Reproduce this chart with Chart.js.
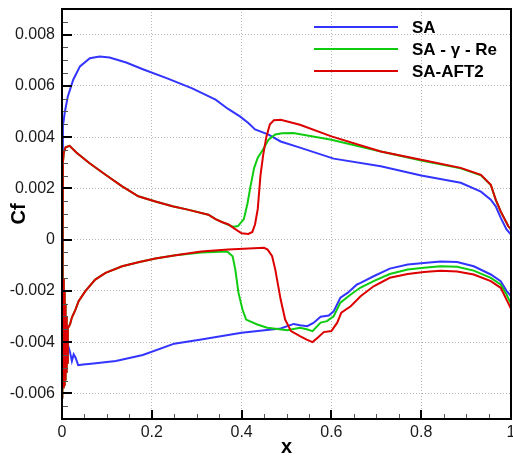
<!DOCTYPE html>
<html>
<head>
<meta charset="utf-8">
<script src="https://cdn.jsdelivr.net/npm/chart.js@4.4.1/dist/chart.umd.min.js"></script>
<style>
  html, body { margin: 0; padding: 0; background: #fff; }
</style>
</head>
<body>
<canvas id="cf" width="513" height="458"></canvas>
<script>
const FONT = "'Liberation Sans', Arial, Helvetica, sans-serif";

const COLORS = {
  sa: "#3434ff",
  gamma: "#10cc10",
  aft: "#dd0000",
  grid: "#b8b8b8",
  text: "#1a1a1a",
};

// tick values and labels
const xTicks = [0, 0.2, 0.4, 0.6, 0.8, 1];
const xTickLabels = ["0", "0.2", "0.4", "0.6", "0.8", "1"];
const yTicks = [-0.006, -0.004, -0.002, 0, 0.002, 0.004, 0.006, 0.008];
const yTickLabels = ["-0.006", "-0.004", "-0.002", "0", "0.002", "0.004", "0.006", "0.008"];

const seriesNames = ["SA", "SA - \u03b3 - Re", "SA-AFT2"];

// SA, upper surface (leading edge -> trailing edge)
const saUpperX = [0, 0.002, 0.006, 0.013, 0.025, 0.04, 0.062, 0.084, 0.106, 0.143, 0.18, 0.233, 0.29, 0.342,
  0.37, 0.397, 0.415, 0.43, 0.46, 0.487, 0.53, 0.605, 0.71, 0.8, 0.888, 0.933, 0.955, 0.966, 0.977, 0.99, 1.0];
const saUpperCf = [0.0035, 0.00442, 0.00495, 0.00559, 0.00624, 0.00676, 0.00708, 0.00715, 0.00711, 0.00691, 0.00665, 0.0063, 0.0059, 0.00546,
  0.0051, 0.0048, 0.00455, 0.0043, 0.0041, 0.00383, 0.00359, 0.00316, 0.00286, 0.0025, 0.00222, 0.00187, 0.00156, 0.0013, 0.00086, 0.0004, 0.0002];

// SA, lower surface
const saLowerX = [0.002, 0.008, 0.013, 0.018, 0.022, 0.026, 0.03, 0.036, 0.047, 0.07, 0.12, 0.18, 0.25, 0.31, 0.4, 0.487,
  0.516, 0.53, 0.546, 0.56, 0.576, 0.594, 0.605, 0.62, 0.636, 0.657, 0.665, 0.694, 0.73, 0.77, 0.806, 0.843, 0.88, 0.917, 0.955, 0.977, 0.99, 1.0];
const saLowerCf = [-0.0039, -0.0041, -0.0041, -0.0044, -0.00474, -0.00448, -0.0046, -0.0049, -0.00487, -0.00483, -0.00474, -0.0045, -0.00406, -0.0039, -0.00363, -0.00347,
  -0.00329, -0.00334, -0.00338, -0.00325, -0.00301, -0.00296, -0.0028, -0.00227, -0.00208, -0.00175, -0.00169, -0.00143, -0.00113, -0.00097, -0.00091, -0.00085, -0.00087, -0.00104, -0.00136, -0.00162, -0.002, -0.0022];

// SA-gamma-Re, upper surface
const gammaUpperX = [0, 0.0005, 0.001, 0.002, 0.004, 0.008, 0.017, 0.032, 0.06, 0.097, 0.134, 0.17, 0.208, 0.246, 0.28, 0.326, 0.342, 0.357,
  0.37, 0.382, 0.392, 0.405, 0.413, 0.42, 0.428, 0.436, 0.447, 0.46, 0.475, 0.49, 0.515, 0.6, 0.71, 0.8, 0.888, 0.933, 0.955, 0.966, 0.977, 0.994, 1.0];
const gammaUpperCf = [0, 0.0012, 0.0022, 0.003, 0.0034, 0.0036, 0.00366, 0.0034, 0.003, 0.00253, 0.00208, 0.00169, 0.00149, 0.0013, 0.00117, 0.00097, 0.0008, 0.00068,
  0.00058, 0.0005, 0.00053, 0.0008, 0.0014, 0.0021, 0.0028, 0.0032, 0.0035, 0.0039, 0.0041, 0.00415, 0.00416, 0.0039, 0.00344, 0.00309, 0.00278, 0.00251, 0.00213, 0.00155, 0.0011, 0.00052, 0.0004];

// SA-gamma-Re, lower surface
const gammaLowerX = [0.0005, 0.001, 0.002, 0.003, 0.004, 0.005, 0.006, 0.007, 0.008, 0.009, 0.01, 0.011, 0.012, 0.013, 0.015, 0.018, 0.022, 0.03, 0.037,
  0.052, 0.074, 0.097, 0.134, 0.17, 0.208, 0.253, 0.31, 0.368, 0.38, 0.386, 0.393, 0.402, 0.41, 0.435, 0.457, 0.502, 0.53, 0.545, 0.558, 0.576, 0.59, 0.605,
  0.62, 0.643, 0.665, 0.694, 0.73, 0.77, 0.806, 0.843, 0.88, 0.917, 0.955, 0.977, 0.99, 1.0];
const gammaLowerCf = [-0.0062, -0.0013, -0.006, -0.0015, -0.0058, -0.002, -0.0057, -0.0025, -0.0055, -0.003, -0.0052, -0.0034, -0.0048, -0.0034, -0.0034, -0.0033, -0.00304, -0.00273, -0.0024,
  -0.00201, -0.00156, -0.0013, -0.00104, -0.00088, -0.00074, -0.00061, -0.0005, -0.00046, -0.00065, -0.00117, -0.00207, -0.00273, -0.00312, -0.00331, -0.00344, -0.00354, -0.00344, -0.0035, -0.00357, -0.00324, -0.00318, -0.00299,
  -0.00246, -0.00214, -0.00187, -0.00162, -0.00134, -0.00117, -0.0011, -0.00104, -0.00106, -0.00121, -0.00149, -0.00175, -0.00214, -0.0025];

// SA-AFT2, upper surface
const aftUpperX = [0, 0.0005, 0.001, 0.002, 0.004, 0.008, 0.017, 0.032, 0.06, 0.097, 0.134, 0.17, 0.208, 0.246, 0.28, 0.326, 0.342, 0.357,
  0.37, 0.385, 0.4, 0.415, 0.424, 0.43, 0.436, 0.442, 0.448, 0.455, 0.463, 0.472, 0.487, 0.53, 0.6, 0.71, 0.8, 0.888, 0.933, 0.955, 0.966, 0.977, 0.994, 1.0];
const aftUpperCf = [0, 0.0012, 0.0022, 0.003, 0.0034, 0.0036, 0.00366, 0.0034, 0.003, 0.00253, 0.00208, 0.00169, 0.00149, 0.0013, 0.00117, 0.00097, 0.0008, 0.00068,
  0.0006, 0.00042, 0.00025, 0.00022, 0.0003, 0.0006, 0.0012, 0.0025, 0.0033, 0.004, 0.0045, 0.00466, 0.00468, 0.00448, 0.00403, 0.00344, 0.00312, 0.0028, 0.00253, 0.00214, 0.00156, 0.0011, 0.00052, 0.0004];

// SA-AFT2, lower surface
const aftLowerX = [0.0005, 0.001, 0.002, 0.003, 0.004, 0.005, 0.006, 0.007, 0.008, 0.009, 0.01, 0.011, 0.012, 0.013, 0.015, 0.018, 0.022, 0.03, 0.037,
  0.052, 0.074, 0.097, 0.134, 0.17, 0.208, 0.253, 0.31, 0.37, 0.45, 0.458, 0.468, 0.475, 0.487, 0.497, 0.51, 0.53, 0.545, 0.558, 0.57, 0.583, 0.6, 0.613, 0.622,
  0.643, 0.665, 0.694, 0.73, 0.77, 0.806, 0.843, 0.88, 0.917, 0.955, 0.977, 0.99, 1.0];
const aftLowerCf = [-0.0062, -0.0013, -0.006, -0.0015, -0.0058, -0.002, -0.0057, -0.0025, -0.0055, -0.003, -0.0052, -0.0034, -0.0048, -0.0034, -0.0034, -0.0033, -0.00304, -0.00273, -0.0024,
  -0.00201, -0.00156, -0.0013, -0.00104, -0.00088, -0.00074, -0.00061, -0.00046, -0.00039, -0.00032, -0.00039, -0.00065, -0.00117, -0.00234, -0.00312, -0.00357, -0.00377, -0.0039, -0.004, -0.00382, -0.00361, -0.00357, -0.00324, -0.00285,
  -0.0026, -0.00221, -0.00182, -0.00149, -0.00134, -0.00126, -0.00121, -0.00124, -0.00136, -0.00162, -0.00188, -0.00234, -0.0027];

// walk the surface: trailing edge -> leading edge on top, then back along the bottom
function loop(upX, upY, loX, loY) {
  const pts = [];
  for (let i = upX.length - 1; i >= 0; i--) pts.push({ x: upX[i], y: upY[i] });
  for (let i = 0; i < loX.length; i++) pts.push({ x: loX[i], y: loY[i] });
  return pts;
}

function lineSet(label, data, color, order) {
  return {
    label,
    data,
    borderColor: color,
    backgroundColor: color,
    borderWidth: 2,
    showLine: true,
    pointRadius: 0,
    tension: 0,
    order,
  };
}

// no extra room for overhanging tick labels, so the frame sits where it should
function noOverhang(s) {
  s.paddingLeft = 0;
  s.paddingRight = 0;
  s.paddingTop = 0;
  s.paddingBottom = 0;
}

const frameAndLabels = {
  id: "frameAndLabels",
  afterDraw(chart) {
    const { ctx, chartArea: a, scales } = chart;
    const xs = scales.x;
    const ys = scales.y;
    ctx.save();

    // minor ticks
    ctx.strokeStyle = "#555";
    ctx.lineWidth = 1;
    ctx.beginPath();
    for (let v = -0.007; v <= 0.009 + 1e-9; v += 0.0005) {
      const y = Math.round(ys.getPixelForValue(v)) + 0.5;
      ctx.moveTo(a.left, y);
      ctx.lineTo(a.left + 6, y);
    }
    for (let v = 0; v <= 1 + 1e-9; v += 0.05) {
      const x = Math.round(xs.getPixelForValue(v)) + 0.5;
      ctx.moveTo(x, a.bottom);
      ctx.lineTo(x, a.bottom - 5);
    }
    ctx.stroke();

    // major ticks
    ctx.strokeStyle = "#000";
    ctx.lineWidth = 2;
    ctx.beginPath();
    yTicks.forEach((v) => {
      const y = Math.round(ys.getPixelForValue(v));
      ctx.moveTo(a.left, y);
      ctx.lineTo(a.left + 10, y);
    });
    xTicks.forEach((v) => {
      const x = Math.round(xs.getPixelForValue(v));
      ctx.moveTo(x, a.bottom);
      ctx.lineTo(x, a.bottom - 9);
    });
    ctx.stroke();

    // frame
    ctx.lineWidth = 2;
    ctx.strokeRect(a.left, a.top, a.right - a.left, a.bottom - a.top);

    // axis titles
    ctx.fillStyle = "#000";
    ctx.font = "bold 20px " + FONT;
    ctx.textAlign = "center";
    ctx.textBaseline = "middle";
    ctx.fillText("x", (a.left + a.right) / 2, 447);
    ctx.save();
    ctx.translate(19, 214);
    ctx.rotate(-Math.PI / 2);
    ctx.fillText("Cf", 0, 0);
    ctx.restore();

    // legend
    const colors = [COLORS.sa, COLORS.gamma, COLORS.aft];
    const rows = [27, 49, 71];
    ctx.font = "bold 17px " + FONT;
    ctx.textAlign = "left";
    seriesNames.forEach((name, i) => {
      ctx.strokeStyle = colors[i];
      ctx.lineWidth = 2;
      ctx.beginPath();
      ctx.moveTo(314, rows[i]);
      ctx.lineTo(398, rows[i]);
      ctx.stroke();
      ctx.fillStyle = "#000";
      ctx.fillText(name, 412, rows[i] + 1);
    });

    ctx.restore();
  },
};

new Chart(document.getElementById("cf"), {
  type: "scatter",
  data: {
    datasets: [
      lineSet(seriesNames[0], loop(saUpperX, saUpperCf, saLowerX, saLowerCf), COLORS.sa, 2),
      lineSet(seriesNames[1], loop(gammaUpperX, gammaUpperCf, gammaLowerX, gammaLowerCf), COLORS.gamma, 1),
      lineSet(seriesNames[2], loop(aftUpperX, aftUpperCf, aftLowerX, aftLowerCf), COLORS.aft, 0),
    ],
  },
  options: {
    responsive: false,
    animation: false,
    layout: { padding: { top: 9, right: 2, left: 0, bottom: 0 } },
    plugins: {
      legend: { display: false },
      tooltip: { enabled: false },
    },
    scales: {
      x: {
        type: "linear",
        min: 0,
        max: 1,
        afterBuildTicks: (s) => { s.ticks = xTicks.map((v) => ({ value: v })); },
        afterFit: (s) => { s.height = 39; noOverhang(s); },
        ticks: {
          color: COLORS.text,
          font: { family: FONT, size: 16 },
          padding: 4,
          maxRotation: 0,
          callback: (v) => xTickLabels[xTicks.indexOf(v)] ?? "",
        },
        grid: { color: COLORS.grid, lineWidth: 1, drawTicks: false, borderDash: [1, 2] },
        border: { display: false, dash: [1, 2] },
      },
      y: {
        type: "linear",
        min: -0.007,
        max: 0.009,
        afterBuildTicks: (s) => { s.ticks = yTicks.map((v) => ({ value: v })); },
        afterFit: (s) => { s.width = 62; noOverhang(s); },
        ticks: {
          color: COLORS.text,
          font: { family: FONT, size: 16 },
          padding: 7,
          callback: (v) => {
            const i = yTicks.findIndex((t) => Math.abs(t - v) < 1e-9);
            return i >= 0 ? yTickLabels[i] : "";
          },
        },
        grid: { color: COLORS.grid, lineWidth: 1, drawTicks: false, borderDash: [1, 2] },
        border: { display: false, dash: [1, 2] },
      },
    },
  },
  plugins: [frameAndLabels],
});
</script>
</body>
</html>
